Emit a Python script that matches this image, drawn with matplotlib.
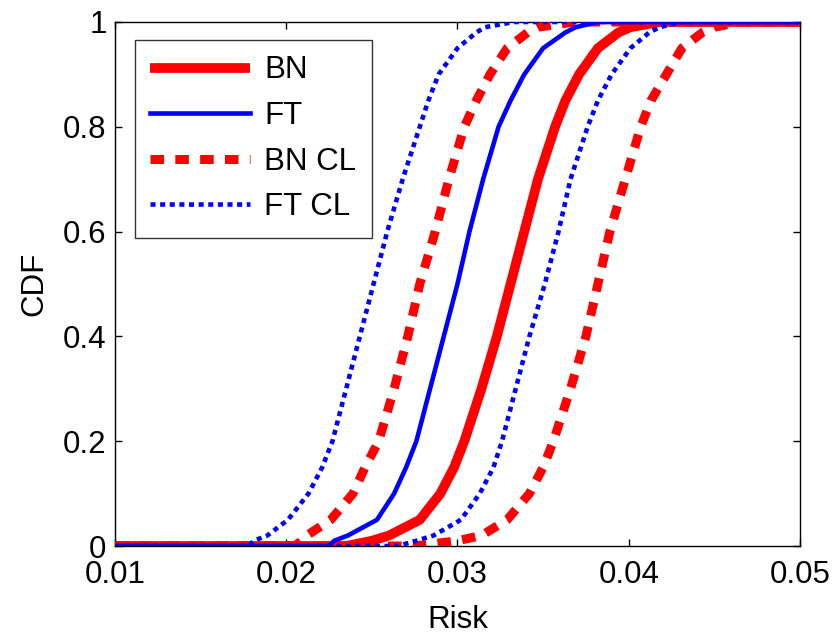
import matplotlib
matplotlib.use("Agg")
import matplotlib.pyplot as plt

plt.rcParams['font.family'] = ['Liberation Sans', 'DejaVu Sans']

cdf_levels = [0, 0, 0.01, 0.02, 0.05, 0.1, 0.15, 0.2, 0.3, 0.4, 0.5, 0.6, 0.7,
              0.8, 0.85, 0.9, 0.95, 0.98, 0.99, 1, 1]

bn = [0.01, 0.0235, 0.0250, 0.0260, 0.0278, 0.0290, 0.0298, 0.0304, 0.0314, 0.0323,
      0.0331, 0.0339, 0.0347, 0.0357, 0.0363, 0.0371, 0.0382, 0.0394, 0.0401, 0.0418, 0.05]
ft = [0.01, 0.0225, 0.0228, 0.0236, 0.0253, 0.0263, 0.0270, 0.0276, 0.0284, 0.0292,
      0.0300, 0.0307, 0.0315, 0.0324, 0.0331, 0.0339, 0.0350, 0.0363, 0.0369, 0.0382, 0.05]
bn_cl_lo = [0.01, 0.0205, 0.0209, 0.0212, 0.0226, 0.0239, 0.0246, 0.0254, 0.0263, 0.0271,
            0.0278, 0.0287, 0.0295, 0.0304, 0.0311, 0.0319, 0.0329, 0.0341, 0.0347, 0.0368, 0.05]
bn_cl_hi = [0.01, 0.0275, 0.0300, 0.0314, 0.0329, 0.0342, 0.0350, 0.0356, 0.0366, 0.0375,
            0.0382, 0.0389, 0.0398, 0.0407, 0.0413, 0.0422, 0.0431, 0.0443, 0.0450, 0.0465, 0.05]
ft_cl_lo = [0.01, 0.0178, 0.0181, 0.0189, 0.0201, 0.0213, 0.0221, 0.0227, 0.0235, 0.0243,
            0.0251, 0.0259, 0.0268, 0.0278, 0.0283, 0.0289, 0.0300, 0.0311, 0.0316, 0.0333, 0.05]
ft_cl_hi = [0.01, 0.0265, 0.0276, 0.0286, 0.0302, 0.0313, 0.0321, 0.0326, 0.0334, 0.0342,
            0.0351, 0.0359, 0.0366, 0.0376, 0.0382, 0.0390, 0.0401, 0.0412, 0.0418, 0.0430, 0.05]

xticks = [0.01, 0.02, 0.03, 0.04, 0.05]
xticklabels = ['0.01', '0.02', '0.03', '0.04', '0.05']
yticks = [0, 0.2, 0.4, 0.6, 0.8, 1]
yticklabels = ['0', '0.2', '0.4', '0.6', '0.8', '1']

FS = 22.5

fig = plt.figure(figsize=(8.39, 6.34), dpi=100)
ax = fig.add_axes([0.137, 0.1388, 0.8165, 0.8265])

red = '#ff0000'
blue = '#0000ff'
l1, = ax.plot(bn, cdf_levels, color=red, lw=7, solid_capstyle='butt',
              solid_joinstyle='round', label='BN', zorder=3)
l2, = ax.plot(ft, cdf_levels, color=blue, lw=3.3, solid_joinstyle='round',
              label='FT', zorder=4)
l3, = ax.plot(bn_cl_lo, cdf_levels, color=red, lw=6.5, dashes=(1.5, 1.25),
              label='BN CL', zorder=3)
ax.plot(bn_cl_hi, cdf_levels, color=red, lw=6.5, dashes=(1.5, 1.25), zorder=3)
l4, = ax.plot(ft_cl_lo, cdf_levels, color=blue, lw=3.3, dashes=(1.1, 1.0),
              label='FT CL', zorder=4)
ax.plot(ft_cl_hi, cdf_levels, color=blue, lw=3.3, dashes=(1.1, 1.0), zorder=4)

ax.set_xlim(0.01, 0.05)
ax.set_ylim(0, 1)
ax.set_xticks(xticks)
ax.set_xticklabels(xticklabels)
ax.set_yticks(yticks)
ax.set_yticklabels(yticklabels)
ax.tick_params(direction='in', top=True, right=True, length=5, width=1,
               labelsize=FS)
ax.tick_params(axis='x', pad=10)
ax.tick_params(axis='y', pad=6)
for s in ax.spines.values():
    s.set_linewidth(1)
ax.set_xlabel('Risk', fontsize=FS, labelpad=11)
ax.set_ylabel('CDF', fontsize=FS, labelpad=10)

leg = ax.legend(handles=[l1, l2, l3, l4], loc='upper left',
                bbox_to_anchor=(0.029, 0.966), fontsize=FS, frameon=True,
                fancybox=False, edgecolor='black', handlelength=3.2,
                handletextpad=0.45, labelspacing=0.5, borderpad=0.5,
                borderaxespad=0)
leg.get_frame().set_linewidth(1)

fig.savefig('out.png', dpi=100)
